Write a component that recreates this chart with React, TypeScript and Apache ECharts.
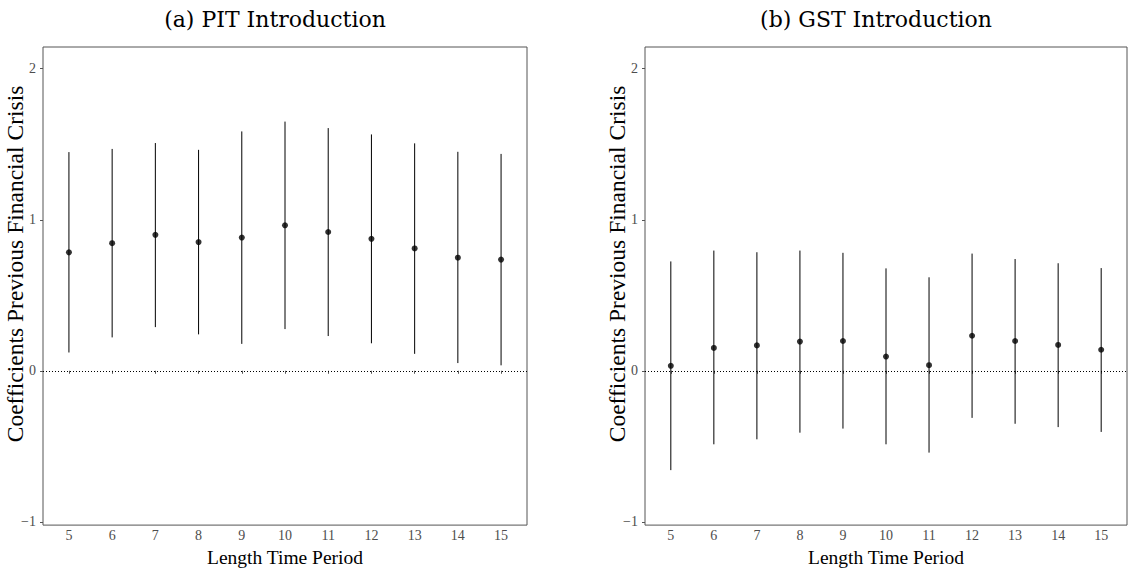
import React, { useEffect, useRef } from "react";
import * as echarts from "echarts";

const periods = [5, 6, 7, 8, 9, 10, 11, 12, 13, 14, 15];

const pitEstimate = [0.784, 0.845, 0.9, 0.852, 0.882, 0.963, 0.919, 0.874, 0.81, 0.749, 0.736];
const pitLower = [0.121, 0.221, 0.289, 0.241, 0.178, 0.276, 0.23, 0.182, 0.112, 0.051, 0.036];
const pitUpper = [1.448, 1.469, 1.508, 1.463, 1.585, 1.65, 1.607, 1.565, 1.506, 1.45, 1.436];

const gstEstimate = [0.033, 0.151, 0.168, 0.193, 0.197, 0.094, 0.037, 0.232, 0.197, 0.171, 0.139];
const gstLower = [-0.658, -0.487, -0.454, -0.41, -0.383, -0.487, -0.542, -0.312, -0.351, -0.373, -0.405];
const gstUpper = [0.724, 0.796, 0.785, 0.796, 0.781, 0.678, 0.619, 0.776, 0.74, 0.712, 0.68];

const yTicks = [-1, 0, 1, 2];
const titles = ["(a) PIT Introduction", "(b) GST Introduction"];
const xTitle = "Length Time Period";
const yTitle = "Coefficients Previous Financial Crisis";

const FONT = "Liberation Serif";
const TITLE_FONT = "DejaVu Serif";

export default function App() {
  const ref = useRef<HTMLDivElement>(null);
  useEffect(() => {
    if (!ref.current) return;
    const chart = echarts.init(ref.current, null, { renderer: "svg" });
    const grids = [
      { left: 43, top: 47, width: 484, height: 486, show: true, borderColor: "#555", borderWidth: 1, backgroundColor: "#fff" },
      { left: 645, top: 47, width: 482, height: 486, show: true, borderColor: "#555", borderWidth: 1, backgroundColor: "#fff" },
    ];
    const xAxes = [0, 1].map((i) => ({
      type: "value",
      gridIndex: i,
      min: 4.4,
      max: 15.6,
      name: xTitle,
      nameLocation: "middle",
      nameGap: 16,
      nameTextStyle: { fontFamily: FONT, fontSize: 19.5, color: "#000", verticalAlign: "top" },
      axisLine: { show: false },
      splitLine: { show: false },
      axisTick: { show: true, length: 3, customValues: periods, lineStyle: { color: "#555" } },
      axisLabel: { customValues: periods, fontFamily: FONT, fontSize: 14, color: "#4d4d4d", margin: 3 },
    }));
    const yAxes = [0, 1].map((i) => ({
      type: "value",
      gridIndex: i,
      min: -1.022,
      max: 2.144,
      axisLine: { show: false },
      splitLine: { show: false },
      axisTick: { show: true, length: 3, customValues: yTicks, lineStyle: { color: "#555" } },
      axisLabel: {
        customValues: yTicks,
        fontFamily: FONT,
        fontSize: 14,
        color: "#4d4d4d",
        margin: 7,
        formatter: (v: number) => (v < 0 ? "\u2212" + Math.abs(v) : String(v)),
      },
    }));
    const makeSeries = (idx: number, est: number[], lo: number[], hi: number[]) => [
      {
        type: "custom",
        xAxisIndex: idx,
        yAxisIndex: idx,
        data: periods.map((p, k) => [p, lo[k], hi[k]]),
        renderItem: (params: any, api: any) => {
          const a = api.coord([api.value(0), api.value(1)]);
          const b = api.coord([api.value(0), api.value(2)]);
          return {
            type: "line",
            shape: { x1: a[0], y1: a[1], x2: b[0], y2: b[1] },
            style: { stroke: "#000", lineWidth: 1 },
          };
        },
        z: 3,
      },
      {
        type: "scatter",
        xAxisIndex: idx,
        yAxisIndex: idx,
        data: periods.map((p, k) => [p, est[k]]),
        symbol: "circle",
        symbolSize: 6,
        itemStyle: { color: "#000" },
        z: 4,
        markLine: {
          silent: true,
          symbol: "none",
          label: { show: false },
          lineStyle: { color: "#000", type: [1, 2], width: 1 },
          data: [{ yAxis: 0 }],
        },
      },
    ];
    const yLabel = (x: number) => ({
      type: "text",
      x,
      y: 264,
      rotation: Math.PI / 2,
      style: {
        text: yTitle,
        fontFamily: FONT,
        fontSize: 23.5,
        fill: "#000",
        textAlign: "center",
        textVerticalAlign: "middle",
      },
    });
    chart.setOption({
      animation: false,
      backgroundColor: "#fff",
      title: [
        { text: titles[0], left: 270, top: 3, textAlign: "center", textStyle: { fontFamily: TITLE_FONT, fontSize: 22, fontWeight: "normal", color: "#000" } },
        { text: titles[1], left: 871, top: 3, textAlign: "center", textStyle: { fontFamily: TITLE_FONT, fontSize: 22, fontWeight: "normal", color: "#000" } },
      ],
      graphic: [yLabel(15), yLabel(617)],
      grid: grids,
      xAxis: xAxes,
      yAxis: yAxes,
      series: [
        ...makeSeries(0, pitEstimate, pitLower, pitUpper),
        ...makeSeries(1, gstEstimate, gstLower, gstUpper),
      ],
    });
    return () => chart.dispose();
  }, []);
  return <div ref={ref} style={{ position: "fixed", left: 0, top: 0, width: 1129, height: 572 }} />;
}
